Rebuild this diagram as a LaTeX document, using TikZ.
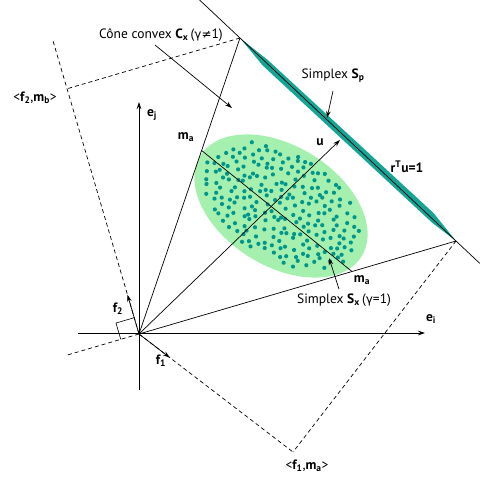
\documentclass[tikz,border=0pt]{standalone}
\usepackage{fontspec}
\setmainfont{PT Sans}
\newfontfamily\symf{DejaVu Sans}
\usetikzlibrary{calc,arrows.meta}
\definecolor{mint}{RGB}{165,240,175}
\definecolor{dotc}{RGB}{0,150,140}
\definecolor{bandc}{RGB}{20,165,150}
\tikzset{
  ln/.style={line width=0.7pt,black},
  dsh/.style={line width=0.7pt,black,dash pattern=on 4pt off 3pt},
  arr/.style={line width=0.7pt,-{Stealth[length=7pt,width=4.5pt]}},
  lbl/.style={font=\fontsize{13.5}{16}\selectfont,inner sep=1pt},
}
\begin{document}
\begin{tikzpicture}[x=1pt,y=-1pt]
\useasboundingbox (0,0) rectangle (480,479);
% key points
\coordinate (O) at (139,334);
\coordinate (T) at (240,38);
\coordinate (R) at (456,241);
\coordinate (U) at (340,140);
\coordinate (Pa) at (293,452);
\coordinate (F2) at ($(O)!1!90:(R)$);
\coordinate (Pb) at ($(O)!(T)!(F2)$);
\coordinate (Ftop) at ($(O)!1.2!(Pb)$);
\coordinate (Lft) at ($(O)!-0.23!(R)$);
\coordinate (M1) at ($(O)!0.62!(T)$);
\coordinate (M2) at ($(O)!0.672!(R)$);
\coordinate (C) at (281,206);
\coordinate (Ltop) at ($(T)!-0.19!(R)$);
\coordinate (Lbot) at ($(T)!1.11!(R)$);
\coordinate (EiS) at (78,333);
\coordinate (EiE) at (425,333);
\coordinate (EjS) at (139,390);
\coordinate (EjE) at (139,102);
% ellipse with dots
\fill[mint] (C) ellipse [x radius=95pt, y radius=60pt, rotate=-32];
\begin{scope}[shift={(C)},rotate=-32]
\pgfmathsetseed{11}
\foreach \gy in {-52.5,-45,...,52.5}{
  \foreach \gx in {-90,-81.5,...,90}{
    \pgfmathsetmacro\px{\gx+mod(\gy+52.5,15)*4.25/7.5+2.8*rand}
    \pgfmathsetmacro\py{\gy+2.5*rand}
    \pgfmathsetmacro\ins{(\px/87)^2+(\py/53)^2}
    \ifdim\ins pt<1pt
      \fill[dotc] (\px pt,\py pt) circle[radius=2.1pt];
    \fi
  }}
\end{scope}
% simplex band S_p
\fill[bandc] (T) -- ($(T)!0.12!(R)!4.5pt!-90:(R)$) -- ($(T)!0.9!(R)!3pt!-90:(R)$) -- (R)
  -- ($(T)!0.88!(R)!5pt!90:(R)$) -- ($(T)!0.12!(R)!3pt!90:(R)$) -- cycle;
\draw[ln] (Ltop) -- (Lbot);
% axes
\draw[arr] (EiS) -- (EiE);
\draw[arr] (EjS) -- (EjE);
% cone rays
\draw[ln] (O) -- (T);
\draw[ln] (O) -- (R);
\draw[arr] (O) -- (U);
\draw[ln] (M1) -- (M2);
% dashed projections
\draw[dsh] (O) -- (Ftop);
\draw[dsh] (T) -- (Pb);
\draw[dsh] (O) -- (Pa);
\draw[dsh] (R) -- (Pa);
\draw[dsh] (O) -- (Lft);
% right angle mark
\coordinate (RA1) at ($(O)!17pt!(Pb)$);
\coordinate (RA2) at ($(O)!19pt!(Lft)$);
\draw[line width=0.6pt] (RA1) -- ($(RA1)+(RA2)-(O)$) -- (RA2);
% f vectors
\coordinate (F1tip) at ($(O)!0.2!(Pa)$);
\coordinate (F2tip) at ($(O)!0.16!(Pb)$);
\draw[arr] (O) -- (F1tip);
\draw[arr] (O) -- (F2tip);
% labels
\node[lbl] (cone) at (161,35) {Cône convex \textbf{C\textsubscript{x}}\,({\symf\fontsize{12}{14}\selectfont γ≠}1)};
\coordinate (coneTip) at (232,108);
\coordinate (coneTail) at (155,45);
\draw[arr] (coneTail) -- (coneTip);
\node[lbl] (sp) at (333,76) {Simplex \textbf{S\textsubscript{p}}};
\coordinate (spTail) at (333,91);
\coordinate (spTip) at (327,118);
\draw[arr] (spTail) -- (spTip);
\node[lbl] (ulbl) at (320,142) {\textbf{u}};
\node[lbl] (rtu) at (407,167) {\textbf{r\textsuperscript{T}u=1}};
\node[lbl] (ma1) at (186,137) {\textbf{m\textsubscript{a}}};
\node[lbl] (ma2) at (362,280) {\textbf{m\textsubscript{a}}};
\node[lbl] (sx) at (344,300) {Simplex \textbf{S\textsubscript{x}}\,({\symf\fontsize{12}{14}\selectfont γ}=1)};
\coordinate (sxTail) at (339,289);
\coordinate (sxTip) at (329,258);
\draw[arr] (sxTail) -- (sxTip);
\node[lbl] (ei) at (431,319) {\textbf{e\textsubscript{i}}};
\node[lbl] (ej) at (152,115) {\textbf{e\textsubscript{j}}};
\node[lbl] (f2l) at (118,309) {\textbf{f\textsubscript{2}}};
\node[lbl] (f1l) at (161,361) {\textbf{f\textsubscript{1}}};
\node[lbl] (pb) at (35,98) {<\textbf{f\textsubscript{2}},\textbf{m\textsubscript{b}}>};
\node[lbl] (pa) at (307,466) {<\textbf{f\textsubscript{1}},\textbf{m\textsubscript{a}}>};
\end{tikzpicture}
\end{document}
